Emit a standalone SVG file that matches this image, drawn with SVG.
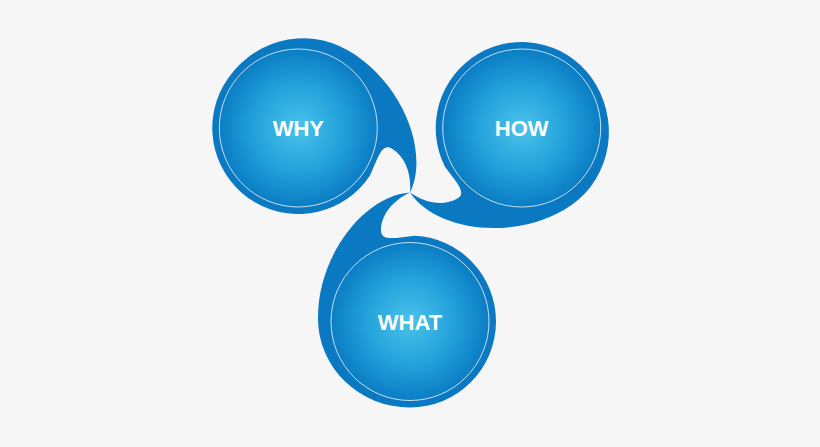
<svg xmlns="http://www.w3.org/2000/svg" xmlns:xlink="http://www.w3.org/1999/xlink" width="820" height="447" viewBox="0 0 820 447">
<style>
.band{fill:#0a79c1}
.core{fill:url(#core);stroke:#ffffff;stroke-width:0.9;stroke-opacity:0.85}
.lbl{font-family:"Liberation Sans",Arial,sans-serif;font-weight:bold;font-size:22px;fill:#ffffff;text-anchor:middle}
</style>
<defs>
<radialGradient id="core" cx="0.5" cy="0.5" r="0.5">
<stop offset="0" stop-color="#4bc2ea"/>
<stop offset="0.55" stop-color="#23a2db"/>
<stop offset="1" stop-color="#0b7dc4"/>
</radialGradient>
<path id="comma" d="M0,0 C-45,3 -92,62 -92,125 A92 89 0 0 0 0 215 A86 86 0 0 0 86 129 A86 86 0 0 0 5 43.15 C-12,44.5 -29,50 -29,38 C-29,22 -17,8 0,0 Z"/>
</defs>
<rect width="820" height="447" fill="#f6f6f6"/>
<g id="connectors"></g>
<g id="why">
<use xlink:href="#comma" class="band" transform="translate(410,192.5) rotate(120)"/>
<circle class="core" cx="298.3" cy="128" r="79"/>
<text class="lbl" x="298.3" y="136">WHY</text>
</g>
<g id="how">
<use xlink:href="#comma" class="band" transform="translate(410,192.5) rotate(240)"/>
<circle class="core" cx="521.7" cy="128" r="79"/>
<text class="lbl" x="521.7" y="136">HOW</text>
</g>
<g id="what">
<use xlink:href="#comma" class="band" transform="translate(410,192.5)"/>
<circle class="core" cx="410" cy="321.5" r="79"/>
<text class="lbl" x="410" y="329.5">WHAT</text>
</g>
</svg>
